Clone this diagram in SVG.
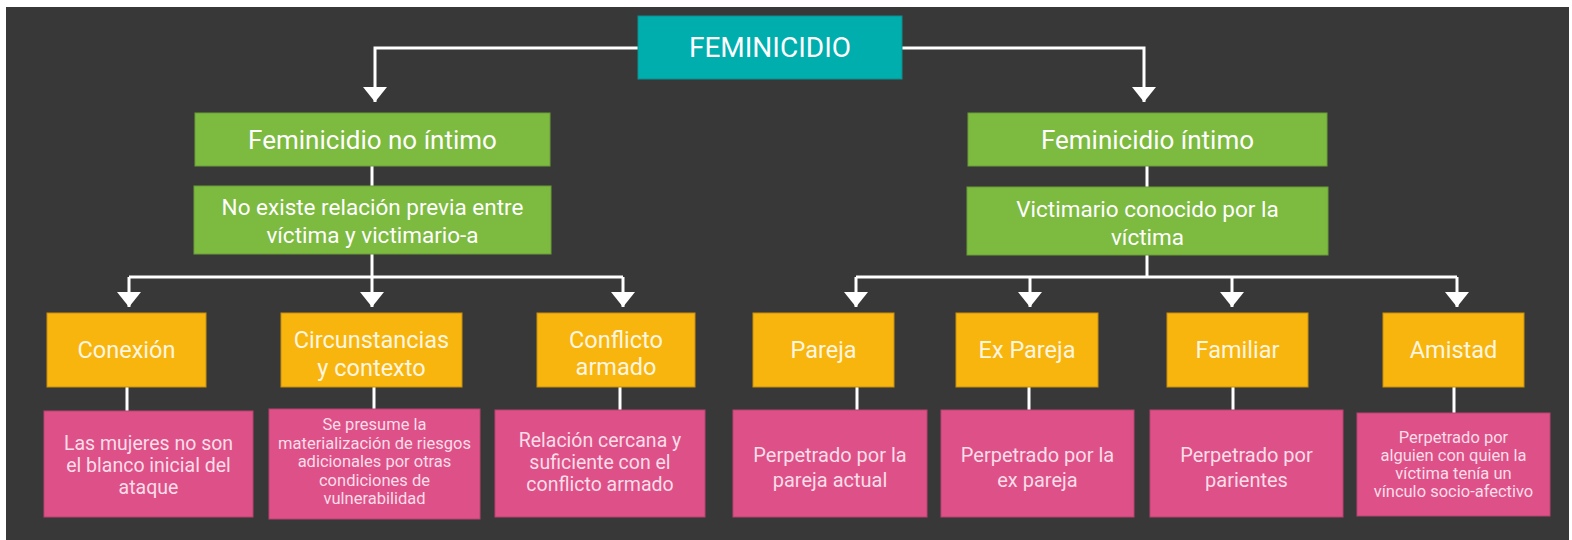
<svg xmlns="http://www.w3.org/2000/svg" width="1572" height="540" viewBox="0 0 1572 540">
<defs>
<style>
.bg{fill:#383838}
.root{fill:#00AEAE;stroke:#0a8f90;stroke-width:1}
.green{fill:#7DBA40;stroke:#6a9e35;stroke-width:1}
.orange{fill:#F7B50E;stroke:#c98f0a;stroke-width:1}
.pink{fill:#DE5188;stroke:#b8436f;stroke-width:1}
text{font-family:Roboto,"Liberation Sans",sans-serif;text-anchor:middle}
.t-root{fill:#ffffff;font-size:28px}
.t-green{fill:#ffffff;font-size:26px}
.t-green2{fill:#ffffff;font-size:22.5px}
.t-orange{fill:#FFF6E0;font-size:23.5px}
.t-pink{fill:#FBDDE8;font-size:20px}
.t-pink-m{fill:#FBDDE8;font-size:19.5px}
.t-pink-s{fill:#FBDDE8;font-size:16.5px}
.conn{fill:none;stroke:#ffffff;stroke-width:3}
</style>
<marker id="arr" viewBox="0 0 15 24" refX="15" refY="12" markerWidth="15" markerHeight="24" markerUnits="userSpaceOnUse" orient="auto">
<path d="M0,0 L15,12 L0,24 Z" fill="#ffffff"/>
</marker>
</defs>
<rect x="0" y="0" width="1572" height="540" fill="#ffffff"/>
<rect class="bg" x="6" y="7" width="1563" height="533"/>

<g id="connectors">
<path class="conn" d="M638,48 H375 V102" marker-end="url(#arr)"/>
<path class="conn" d="M902,48 H1144 V102" marker-end="url(#arr)"/>
<path class="conn" d="M372,166 V186"/>
<path class="conn" d="M1147,166 V187"/>
<path class="conn" d="M372,254 V277"/>
<path class="conn" d="M129,277 H623"/>
<path class="conn" d="M129,277 V307" marker-end="url(#arr)"/>
<path class="conn" d="M372,277 V307" marker-end="url(#arr)"/>
<path class="conn" d="M623,277 V307" marker-end="url(#arr)"/>
<path class="conn" d="M1147,255 V277"/>
<path class="conn" d="M856,277 H1457"/>
<path class="conn" d="M856,277 V307" marker-end="url(#arr)"/>
<path class="conn" d="M1030,277 V307" marker-end="url(#arr)"/>
<path class="conn" d="M1232,277 V307" marker-end="url(#arr)"/>
<path class="conn" d="M1457,277 V307" marker-end="url(#arr)"/>
<path class="conn" d="M127,387 V411"/>
<path class="conn" d="M374,387 V409"/>
<path class="conn" d="M620,387 V410"/>
<path class="conn" d="M857,387 V410"/>
<path class="conn" d="M1029,387 V410"/>
<path class="conn" d="M1233,387 V410"/>
<path class="conn" d="M1454,387 V413"/>
</g>

<g id="feminicidio">
<rect class="root" x="638" y="16" width="264" height="63"/>
<text class="t-root" x="770" y="57">FEMINICIDIO</text>
</g>

<g id="no-intimo">
<rect class="green" x="195" y="113" width="355" height="53"/>
<text class="t-green" x="372.5" y="149">Feminicidio no íntimo</text>
</g>
<g id="no-intimo-desc">
<rect class="green" x="194" y="186" width="357" height="68"/>
<text class="t-green2" x="372.5" y="215">No existe relación previa entre</text>
<text class="t-green2" x="372.5" y="243">víctima y victimario-a</text>
</g>

<g id="intimo">
<rect class="green" x="968" y="113" width="359" height="53"/>
<text class="t-green" x="1147.5" y="149">Feminicidio íntimo</text>
</g>
<g id="intimo-desc">
<rect class="green" x="967" y="187" width="361" height="68"/>
<text class="t-green2" x="1147.5" y="217">Victimario conocido por la</text>
<text class="t-green2" x="1147.5" y="245">víctima</text>
</g>

<g id="conexion">
<rect class="orange" x="47" y="313" width="159" height="74"/>
<text class="t-orange" x="126.5" y="358">Conexión</text>
</g>
<g id="circunstancias">
<rect class="orange" x="281" y="313" width="181" height="74"/>
<text class="t-orange" x="371.5" y="348">Circunstancias</text>
<text class="t-orange" x="371.5" y="376">y contexto</text>
</g>
<g id="conflicto">
<rect class="orange" x="537" y="313" width="158" height="74"/>
<text class="t-orange" x="616" y="348">Conflicto</text>
<text class="t-orange" x="616" y="375">armado</text>
</g>
<g id="pareja">
<rect class="orange" x="753" y="313" width="141" height="74"/>
<text class="t-orange" x="823.5" y="358">Pareja</text>
</g>
<g id="ex-pareja">
<rect class="orange" x="956" y="313" width="142" height="74"/>
<text class="t-orange" x="1027" y="358">Ex Pareja</text>
</g>
<g id="familiar">
<rect class="orange" x="1167" y="313" width="141" height="74"/>
<text class="t-orange" x="1237.5" y="358">Familiar</text>
</g>
<g id="amistad">
<rect class="orange" x="1383" y="313" width="141" height="74"/>
<text class="t-orange" x="1453.5" y="358">Amistad</text>
</g>

<g id="conexion-desc">
<rect class="pink" x="44" y="411" width="209" height="106"/>
<text class="t-pink-m" x="148.5" y="450">Las mujeres no son</text>
<text class="t-pink-m" x="148.5" y="472">el blanco inicial del</text>
<text class="t-pink-m" x="148.5" y="494">ataque</text>
</g>
<g id="circunstancias-desc">
<rect class="pink" x="269" y="409" width="211" height="110"/>
<text class="t-pink-s" x="374.5" y="430">Se presume la</text>
<text class="t-pink-s" x="374.5" y="449">materialización de riesgos</text>
<text class="t-pink-s" x="374.5" y="467">adicionales por otras</text>
<text class="t-pink-s" x="374.5" y="486">condiciones de</text>
<text class="t-pink-s" x="374.5" y="504">vulnerabilidad</text>
</g>
<g id="conflicto-desc">
<rect class="pink" x="495" y="410" width="210" height="107"/>
<text class="t-pink-m" x="600" y="447">Relación cercana y</text>
<text class="t-pink-m" x="600" y="469">suficiente con el</text>
<text class="t-pink-m" x="600" y="491">conflicto armado</text>
</g>
<g id="pareja-desc">
<rect class="pink" x="733" y="410" width="194" height="107"/>
<text class="t-pink" x="830" y="462">Perpetrado por la</text>
<text class="t-pink" x="830" y="487">pareja actual</text>
</g>
<g id="ex-pareja-desc">
<rect class="pink" x="941" y="410" width="193" height="107"/>
<text class="t-pink" x="1037.5" y="462">Perpetrado por la</text>
<text class="t-pink" x="1037.5" y="487">ex pareja</text>
</g>
<g id="familiar-desc">
<rect class="pink" x="1150" y="410" width="193" height="107"/>
<text class="t-pink" x="1246.5" y="462">Perpetrado por</text>
<text class="t-pink" x="1246.5" y="487">parientes</text>
</g>
<g id="amistad-desc">
<rect class="pink" x="1357" y="413" width="193" height="103"/>
<text class="t-pink-s" x="1453.5" y="443">Perpetrado por</text>
<text class="t-pink-s" x="1453.5" y="461">alguien con quien la</text>
<text class="t-pink-s" x="1453.5" y="479">víctima tenía un</text>
<text class="t-pink-s" x="1453.5" y="497">vínculo socio-afectivo</text>
</g>
</svg>
